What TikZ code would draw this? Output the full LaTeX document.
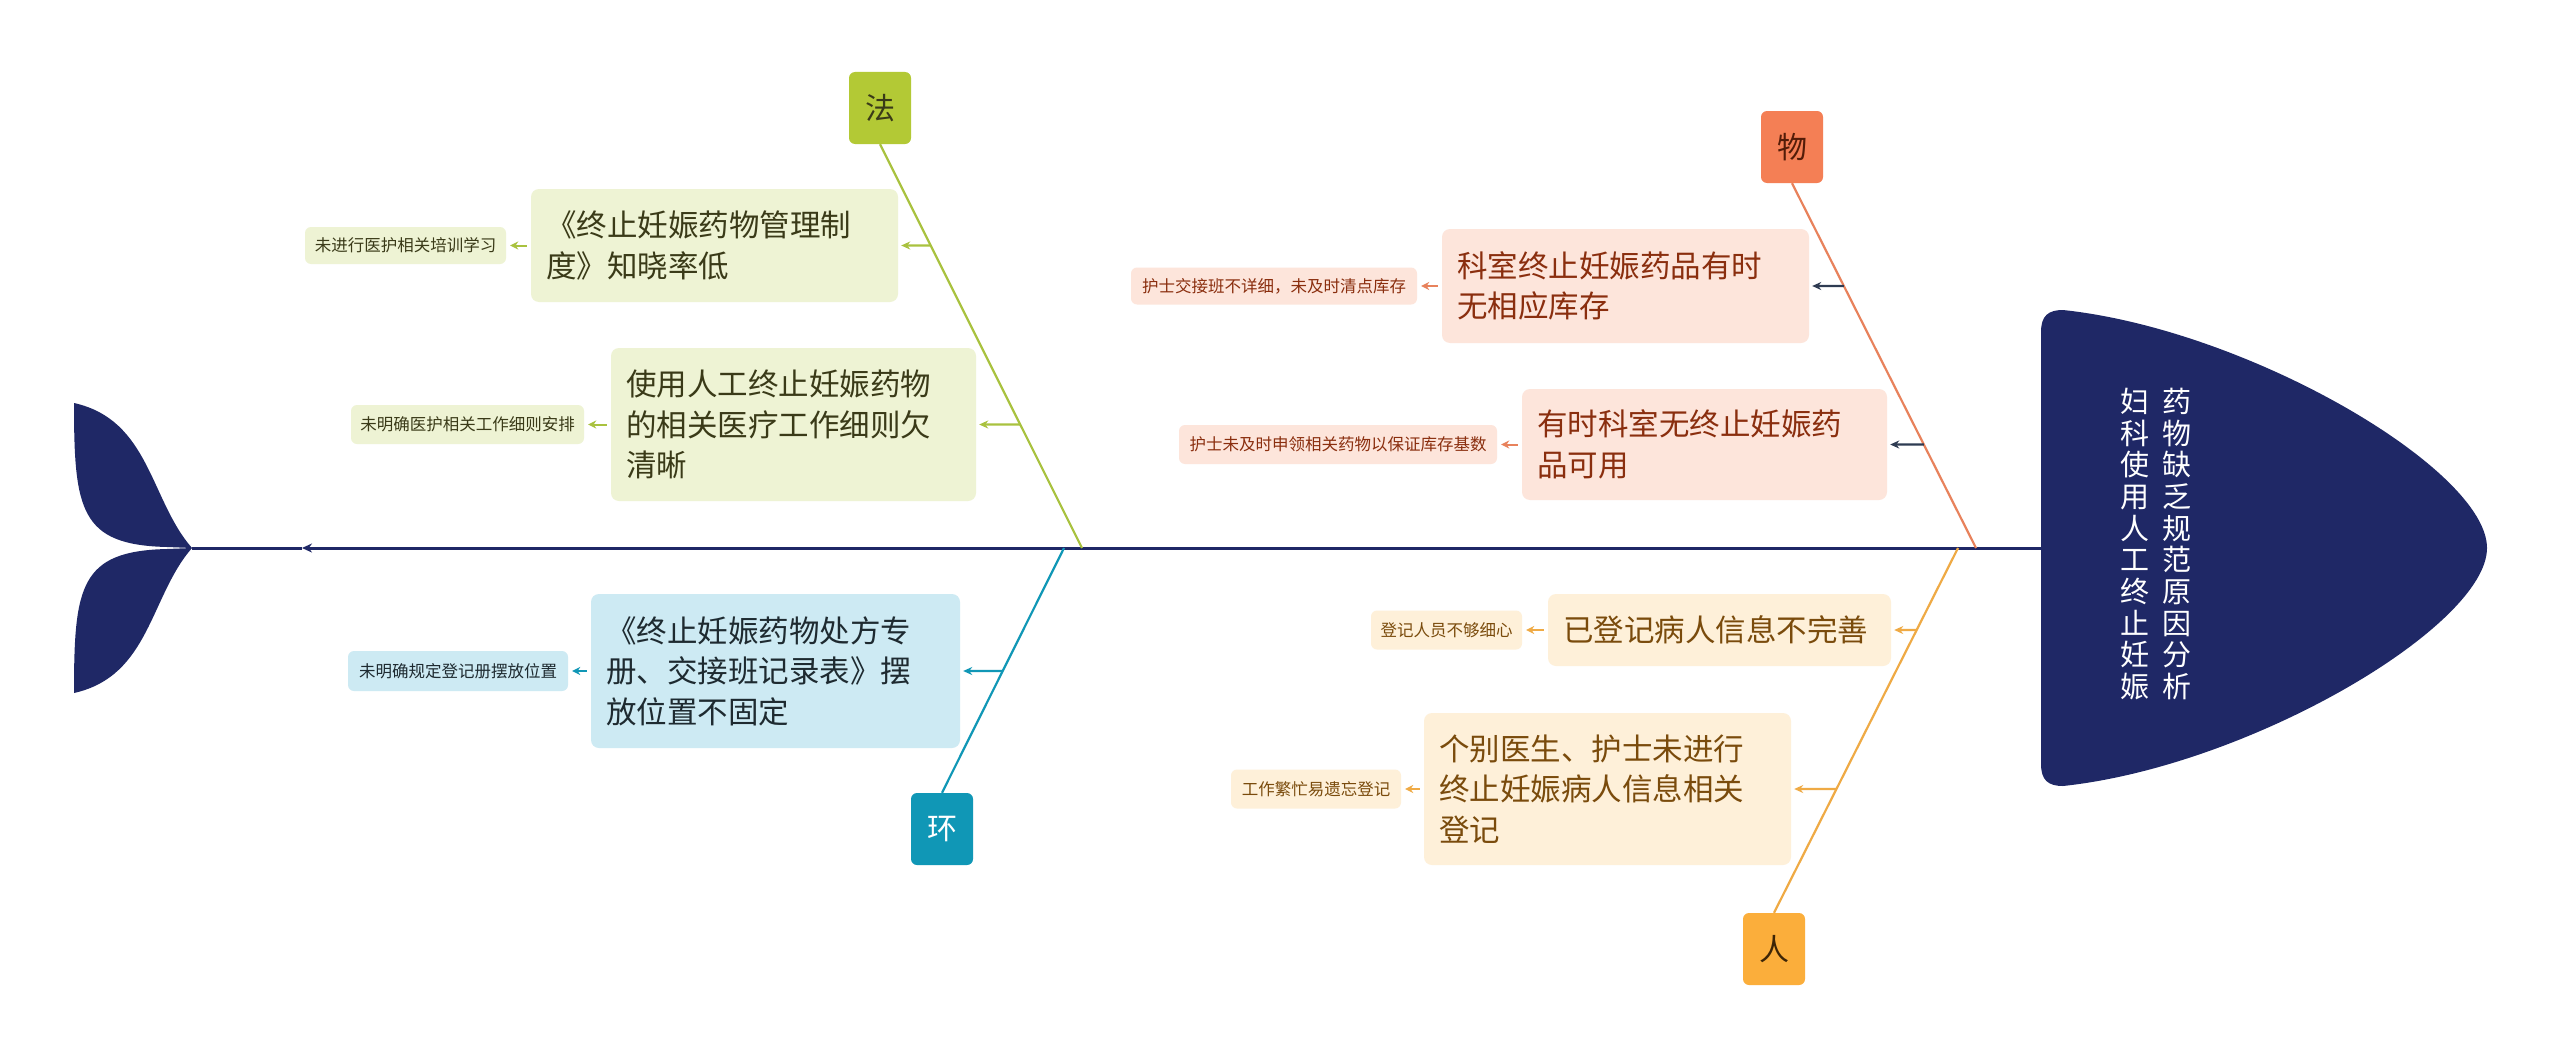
\documentclass[tikz,border=0pt]{standalone}
\usepackage{fontspec}
\setmainfont{Noto Sans CJK SC}
\usetikzlibrary{arrows.meta}
\definecolor{navy}{HTML}{1F2866}
\definecolor{fagreen}{HTML}{B3C935}
\definecolor{faline}{HTML}{A9C23F}
\definecolor{fafill}{HTML}{EEF3D4}
\definecolor{fatext}{HTML}{3A3A18}
\definecolor{huan}{HTML}{1097B6}
\definecolor{huanfill}{HTML}{CDEAF3}
\definecolor{huantext}{HTML}{1E2A30}
\definecolor{wu}{HTML}{F47F55}
\definecolor{wuline}{HTML}{E8825C}
\definecolor{wufill}{HTML}{FDE5DB}
\definecolor{wutext}{HTML}{8A2E0E}
\definecolor{slate}{HTML}{2E3B52}
\definecolor{ren}{HTML}{FBAE3B}
\definecolor{renline}{HTML}{EFAA45}
\definecolor{renfill}{HTML}{FEF0D9}
\definecolor{rentext}{HTML}{7A4B0C}
\begin{document}
\begin{tikzpicture}[x=1pt,y=-1pt,
 catbox/.style={rounded corners=6pt, minimum width=62pt, minimum height=72pt, inner sep=0pt, font=\fontsize{30}{32}\selectfont},
 bigbox/.style={rounded corners=8pt, inner xsep=15pt, inner ysep=0pt, align=left, font=\fontsize{30.5}{40.5}\selectfont},
 smallbox/.style={rounded corners=6pt, inner sep=0pt, font=\fontsize{16.5}{18}\selectfont},
 headtxt/.style={text=white, align=center, inner sep=0pt, font=\fontsize{29}{31.7}\selectfont},
 bone/.style={line width=2.2pt},
 arr/.style={line width=2.2pt, -{Stealth[length=9pt,width=8pt]}, shorten >=3pt},
 subarr/.style={line width=2pt, -{Stealth[length=8pt,width=8pt]}, shorten >=4pt, shorten <=4pt},
]
\useasboundingbox[fill=white] (0,0) rectangle (2560,1057);

% head
\fill[navy] (2063,310) .. controls (2250,330) and (2487,470) .. (2487,548)
  .. controls (2487,626) and (2250,766) .. (2063,786)
  .. controls (2048,786) and (2041,780) .. (2041,764) -- (2041,332)
  .. controls (2041,316) and (2048,310) .. (2063,310) -- cycle;
\coordinate (headW) at (2041,548);
\node[headtxt] (h1) at (2135,544) {妇\\科\\使\\用\\人\\工\\终\\止\\妊\\娠};
\node[headtxt] (h2) at (2177,544) {药\\物\\缺\\乏\\规\\范\\原\\因\\分\\析};

% tail
\fill[navy] (192,548) .. controls (150,500) and (150,420) .. (74,403)
  .. controls (74,510) and (80,545) .. (167,547) -- cycle;
\fill[navy] (192,548) .. controls (150,596) and (150,676) .. (74,693)
  .. controls (74,586) and (80,551) .. (167,549) -- cycle;
\coordinate (tailtip) at (192,548);
\coordinate (spmid) at (302,548);

% spine
\draw[navy, line width=3pt, -{Stealth[length=10pt,width=9pt]}] (headW) -- (spmid);
\draw[navy, line width=3pt] (spmid) -- (tailtip);

% category boxes
\node[catbox, fill=fagreen, text=fatext] (fa) at (880,108) {法};
\node[catbox, fill=huan, text=white] (hu) at (942,829) {环};
\node[catbox, fill=wu, text=wutext!60!black] (wu) at (1792,147) {物};
\node[catbox, fill=ren, text=rentext!50!black] (re) at (1774,949) {人};

\coordinate (faend) at (1082,548);
\coordinate (huend) at (1064,548);
\coordinate (wuend) at (1976,548);
\coordinate (reend) at (1958,548);

\draw[bone, faline] (fa.south) -- (faend);
\draw[bone, huan] (hu.north) -- (huend);
\draw[bone, wuline] (wu.south) -- (wuend);
\draw[bone, renline] (re.north) -- (reend);

% fa branch
\node[bigbox, fill=fafill, text=fatext, minimum width=367pt, text width=337pt, minimum height=113pt] (A1) at (714.5,245.5) {《终止妊娠药物管理制\\度》知晓率低};
\node[smallbox, fill=fafill, text=fatext, minimum width=201pt, minimum height=37pt] (A1a) at (405.5,245.5) {未进行医护相关培训学习};
\node[bigbox, fill=fafill, text=fatext, minimum width=365pt, text width=335pt, minimum height=153pt] (A2) at (793.5,424.5) {使用人工终止妊娠药物\\的相关医疗工作细则欠\\清晰};
\node[smallbox, fill=fafill, text=fatext, minimum width=233pt, minimum height=39pt] (A2a) at (467.5,424.5) {未明确医护相关工作细则安排};
\coordinate (A1s) at (intersection of fa.south--faend and A1.east--A1a.east);
\coordinate (A2s) at (intersection of fa.south--faend and A2.east--A2a.east);
\draw[arr, faline] (A1s) -- (A1.east);
\draw[arr, faline] (A2s) -- (A2.east);
\draw[subarr, faline] (A1.west) -- (A1a.east);
\draw[subarr, faline] (A2.west) -- (A2a.east);

% huan branch
\node[bigbox, fill=huanfill, text=huantext, minimum width=369pt, text width=339pt, minimum height=154pt] (E1) at (775.5,671) {《终止妊娠药物处方专\\册、交接班记录表》摆\\放位置不固定};
\node[smallbox, fill=huanfill, text=huantext, minimum width=220pt, minimum height=40pt] (E1a) at (458,671) {未明确规定登记册摆放位置};
\coordinate (E1s) at (intersection of hu.north--huend and E1.east--E1a.east);
\draw[arr, huan] (E1s) -- (E1.east);
\draw[subarr, huan] (E1.west) -- (E1a.east);

% wu branch
\node[bigbox, fill=wufill, text=wutext, minimum width=367pt, text width=337pt, minimum height=114pt] (W1) at (1625.5,286) {科室终止妊娠药品有时\\无相应库存};
\node[smallbox, fill=wufill, text=wutext, minimum width=286pt, minimum height=37pt] (W1a) at (1274,286) {护士交接班不详细，未及时清点库存};
\node[bigbox, fill=wufill, text=wutext, minimum width=365pt, text width=335pt, minimum height=111pt] (W2) at (1704.5,444.5) {有时科室无终止妊娠药\\品可用};
\node[smallbox, fill=wufill, text=wutext, minimum width=318pt, minimum height=39pt] (W2a) at (1338,444.5) {护士未及时申领相关药物以保证库存基数};
\coordinate (W1s) at (intersection of wu.south--wuend and W1.east--W1a.east);
\coordinate (W2s) at (intersection of wu.south--wuend and W2.east--W2a.east);
\draw[arr, slate] (W1s) -- (W1.east);
\draw[arr, slate] (W2s) -- (W2.east);
\draw[subarr, wuline] (W1.west) -- (W1a.east);
\draw[subarr, wuline] (W2.west) -- (W2a.east);

% ren branch
\node[bigbox, fill=renfill, text=rentext, minimum width=343pt, text width=313pt, minimum height=72pt] (R1) at (1719.5,630) {已登记病人信息不完善};
\node[smallbox, fill=renfill, text=rentext, minimum width=151pt, minimum height=39pt] (R1a) at (1446.5,630) {登记人员不够细心};
\node[bigbox, fill=renfill, text=rentext, minimum width=367pt, text width=337pt, minimum height=152pt] (R2) at (1607.5,789) {个别医生、护士未进行\\终止妊娠病人信息相关\\登记};
\node[smallbox, fill=renfill, text=rentext, minimum width=170pt, minimum height=39pt] (R2a) at (1316,789) {工作繁忙易遗忘登记};
\coordinate (R1s) at (intersection of re.north--reend and R1.east--R1a.east);
\coordinate (R2s) at (intersection of re.north--reend and R2.east--R2a.east);
\draw[arr, renline] (R1s) -- (R1.east);
\draw[arr, renline] (R2s) -- (R2.east);
\draw[subarr, renline] (R1.west) -- (R1a.east);
\draw[subarr, renline] (R2.west) -- (R2a.east);
\end{tikzpicture}
\end{document}
